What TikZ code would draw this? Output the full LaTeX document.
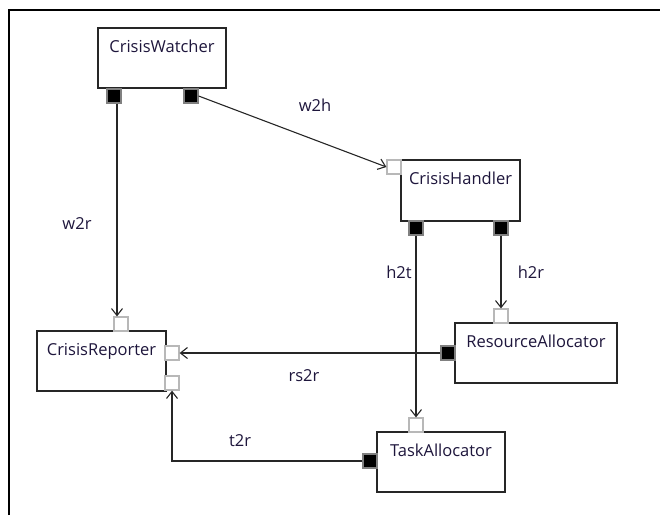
\documentclass[tikz,border=0pt]{standalone}
\usepackage{fontspec}
\setmainfont{Open Sans}
\usetikzlibrary{arrows.meta,calc}
\definecolor{txt}{RGB}{30,22,60}
\begin{document}
\begin{tikzpicture}[x=1pt,y=-1pt,
 box/.style={draw=black!85,line width=1.3pt,fill=white,minimum width=#1,minimum height=60pt,inner sep=0pt},
 lbl/.style={font=\fontsize{16.5}{19}\selectfont,text=txt,anchor=base,inner sep=0pt},
 inport/.style={draw=black!28,fill=white,line width=1.2pt,minimum size=14pt,inner sep=0pt},
 outport/.style={draw=black!50,fill=black,line width=1.2pt,minimum size=14pt,inner sep=0pt},
 conn/.style={draw=black!85,line width=1.1pt},
 arr/.style={conn,-{Straight Barb[length=7pt,width=11pt]}},
 clab/.style={font=\fontsize{16.5}{19}\selectfont,text=txt,inner sep=0pt}]
\useasboundingbox (0,0) rectangle (660,515);
\draw[line width=1.6pt] (9,515) -- (9,10) -- (660,10);

% boxes
\node[box=128pt] (cw) at (162,58) {};
\node[lbl] (cwt) at ($(cw.north)+(0,25)$) {CrisisWatcher};
\node[box=119pt, minimum height=61pt] (ch) at (460.5,190.5) {};
\node[lbl] (cht) at ($(ch.north)+(0,25)$) {CrisisHandler};
\node[box=162pt] (ra) at (536,353) {};
\node[lbl] (rat) at ($(ra.north)+(0,25)$) {ResourceAllocator};
\node[box=129pt] (cr) at (101.5,361) {};
\node[lbl] (crt) at ($(cr.north)+(0,25)$) {CrisisReporter};
\node[box=128pt] (ta) at (441,462) {};
\node[lbl] (tat) at ($(ta.north)+(0,25)$) {TaskAllocator};

% ports
\node[outport] (cwa) at (114,96) {};
\node[outport] (cwb) at (191,96) {};
\node[inport] (chin) at (394,167) {};
\node[outport] (cha) at (416,228) {};
\node[outport] (chb) at (501,228) {};
\node[inport] (ratop) at (501,316) {};
\node[outport] (ral) at (448,353) {};
\node[inport] (crtop) at (121,324) {};
\node[inport] (crp1) at (172,353) {};
\node[inport] (crp2) at (172,383) {};
\node[inport] (tatop) at (416,425) {};
\node[outport] (tal) at (370,461) {};

% connectors
\draw[arr] ($(cwa.south)+(3,0)$) -- ($(crtop.north)+(-4,0)$);
\draw[arr] (cwb.east) -- (chin.west);
\draw[arr] (cha.south) -- (tatop.north);
\draw[arr] (chb.south) -- (ratop.north);
\draw[arr] (ral.west) -- (crp1.east);
\draw[arr] (tal.west) -| (crp2.south);

% connector labels
\node[clab] (lw2h) at (315,105) {w2h};
\node[clab] (lw2r) at (77,224) {w2r};
\node[clab] (lh2t) at (399,272) {h2t};
\node[clab] (lh2r) at (531,272) {h2r};
\node[clab] (lrs2r) at (304,376) {rs2r};
\node[clab] (lt2r) at (240,441) {t2r};
\end{tikzpicture}
\end{document}
